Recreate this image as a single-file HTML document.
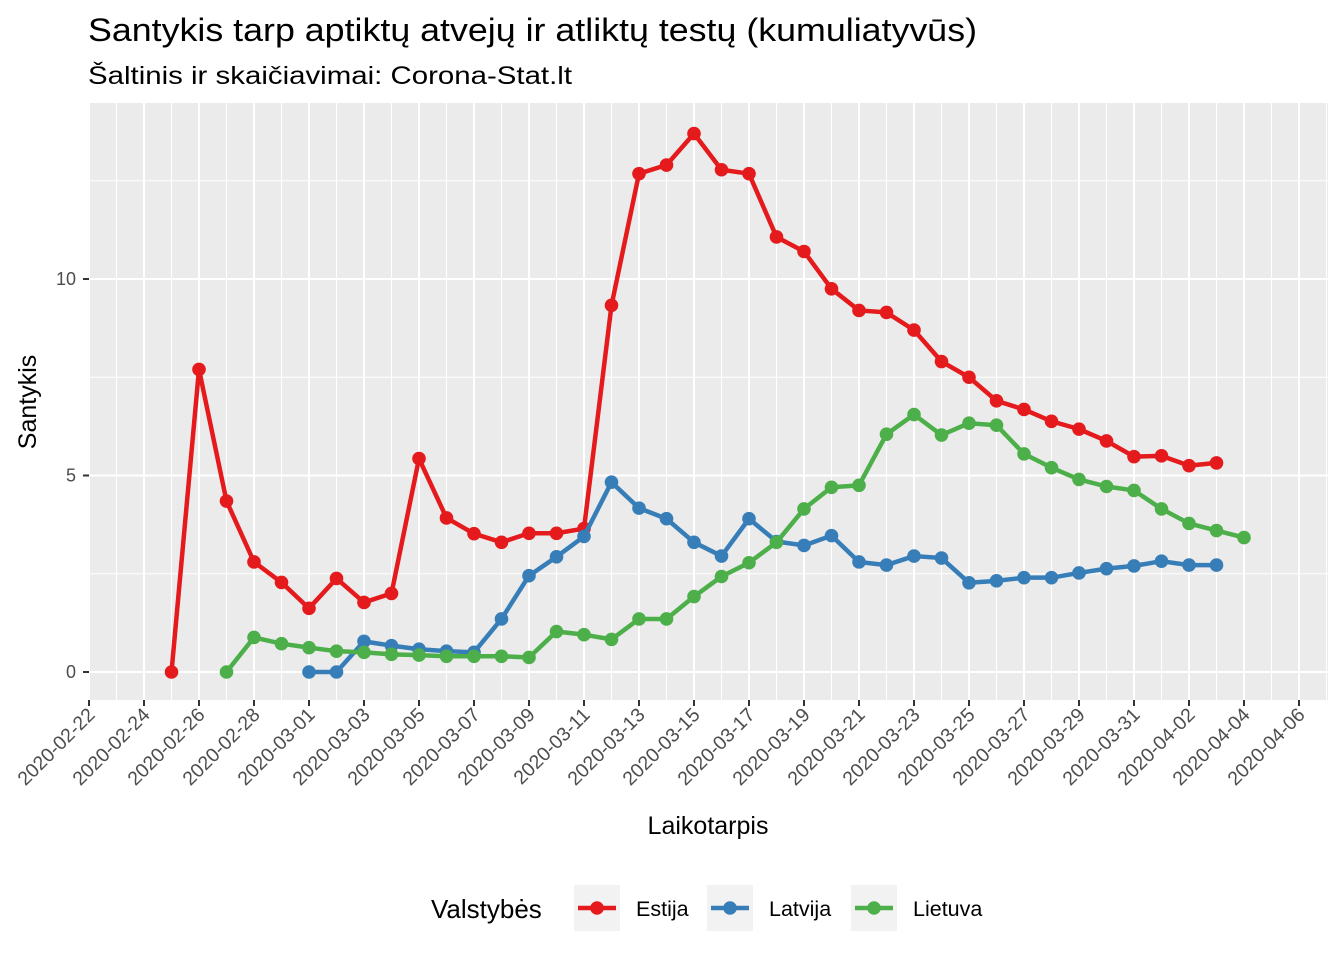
<!DOCTYPE html>
<html><head><meta charset="utf-8"><style>
body{margin:0;background:#fff;}
svg{display:block;font-family:"Liberation Sans",sans-serif;}
</style></head><body>
<svg id="chart" width="1344" height="960">
<text x="88" y="41" font-size="32" textLength="889" lengthAdjust="spacingAndGlyphs" fill="#000">Santykis tarp aptiktų atvejų ir atliktų testų (kumuliatyvūs)</text>
<text x="88" y="84" font-size="25" textLength="484" lengthAdjust="spacingAndGlyphs" fill="#000">Šaltinis ir skaičiavimai: Corona-Stat.lt</text>
<rect x="89" y="103" width="1239" height="597" fill="#ebebeb"/>
<g id="grid"></g><g id="axes"></g><g id="series"></g>
<text x="708" y="834" font-size="25" text-anchor="middle">Laikotarpis</text>
<text transform="translate(36,402) rotate(-90)" font-size="25" text-anchor="middle">Santykis</text>
<text x="431" y="918" font-size="26">Valstybės</text>
<g id="legend"></g>
</svg>
<script>
const estDates0 = "2020-02-25";
const estija = [0,7.7,4.35,2.8,2.28,1.62,2.38,1.77,2.0,5.43,3.92,3.52,3.3,3.53,3.53,3.65,9.33,12.68,12.9,13.7,12.78,12.68,11.07,10.7,9.75,9.2,9.15,8.7,7.9,7.5,6.9,6.68,6.38,6.18,5.88,5.48,5.5,5.25,5.32];
const latDates0 = "2020-03-01";
const latvija = [0,0,0.78,0.67,0.58,0.53,0.5,1.35,2.45,2.93,3.45,4.83,4.17,3.9,3.3,2.95,3.9,3.32,3.22,3.47,2.8,2.72,2.95,2.9,2.27,2.32,2.4,2.4,2.52,2.63,2.7,2.82,2.72,2.72];
const litDates0 = "2020-02-27";
const lietuva = [0,0.88,0.72,0.62,0.53,0.5,0.45,0.43,0.4,0.4,0.4,0.37,1.03,0.95,0.83,1.35,1.35,1.92,2.43,2.78,3.3,4.15,4.7,4.75,6.05,6.55,6.03,6.33,6.28,5.55,5.2,4.9,4.72,4.62,4.15,3.78,3.6,3.42];
const yTicks = [0,5,10];
const seriesNames = ["Estija","Latvija","Lietuva"];
const colors = ["#e41a1c","#377eb8","#4daf4a"];

const NS="http://www.w3.org/2000/svg";
const D0=Date.UTC(2020,1,22);
function dayOf(s){const p=s.split("-");return (Date.UTC(+p[0],+p[1]-1,+p[2])-D0)/86400000;}
function X(d){return 89+d*27.5;}
function Y(v){return 672-v*39.3;}
function mk(tag,attrs,parent){const e=document.createElementNS(NS,tag);for(const k in attrs)e.setAttribute(k,attrs[k]);parent.appendChild(e);return e;}
const grid=document.getElementById("grid"),axes=document.getElementById("axes"),ser=document.getElementById("series"),leg=document.getElementById("legend");
for(let d=0;d<=45;d++){const x=X(d);if(x>1328)break;
  const g=mk("line",{x1:x,x2:x,y1:103,y2:700,stroke:"#fff","stroke-width":d%2?1:2},grid);
  
  
  if(d%2===0){
    const t=mk("line",{x1:x,x2:x,y1:700,y2:706,stroke:"#333","stroke-width":2},axes);
    
    
    const dt=new Date(D0+d*86400000);const lab=dt.toISOString().slice(0,10);
    const tx=mk("text",{transform:`translate(${x+7},${716}) rotate(-45)`,"font-size":19.5,fill:"#4d4d4d","text-anchor":"end"},axes);
    tx.textContent=lab;
    
    
  }
}
for(let v=-2.5;v<=15;v+=2.5){const y=Y(v);if(y<103||y>700)continue;
  const major=yTicks.includes(v);
  const g=mk("line",{x1:89,x2:1328,y1:y,y2:y,stroke:"#fff","stroke-width":major?2:1},grid);
  
  
}
yTicks.forEach(v=>{const y=Y(v);
  const t=mk("line",{x1:83,x2:89,y1:y,y2:y,stroke:"#333","stroke-width":2},axes);
  
  
  const tx=mk("text",{x:76,y:y+6,"font-size":18,fill:"#4d4d4d","text-anchor":"end"},axes);
  tx.textContent=v;
  
  
});
const all=[[estDates0,estija],[latDates0,latvija],[litDates0,lietuva]];
all.forEach(([s0,vals],i)=>{const d0=dayOf(s0);
  const pts=vals.map((v,j)=>[X(d0+j),Y(v)]);
  const pl=mk("polyline",{points:pts.map(p=>p.join(",")).join(" "),fill:"none",stroke:colors[i],"stroke-width":4.5,"stroke-linejoin":"round"},ser);
  
  
  pts.forEach(p=>{const c=mk("circle",{cx:p[0],cy:p[1],r:6.8,fill:colors[i]},ser);
    
    });
});
const lx=[574,707,851],tx=[636,769,913];
seriesNames.forEach((n,i)=>{
  const r=mk("rect",{x:lx[i],y:885,width:46,height:46,fill:"#f2f2f2"},leg);
  
  
  mk("line",{x1:lx[i]+4,x2:lx[i]+42,y1:908,y2:908,stroke:colors[i],"stroke-width":4.5},leg);
  mk("circle",{cx:lx[i]+23,cy:908,r:6.8,fill:colors[i]},leg);
  const t=mk("text",{x:tx[i],y:916,"font-size":21.5},leg);
  t.textContent=n;
  
  
});
</script>
</body></html>
